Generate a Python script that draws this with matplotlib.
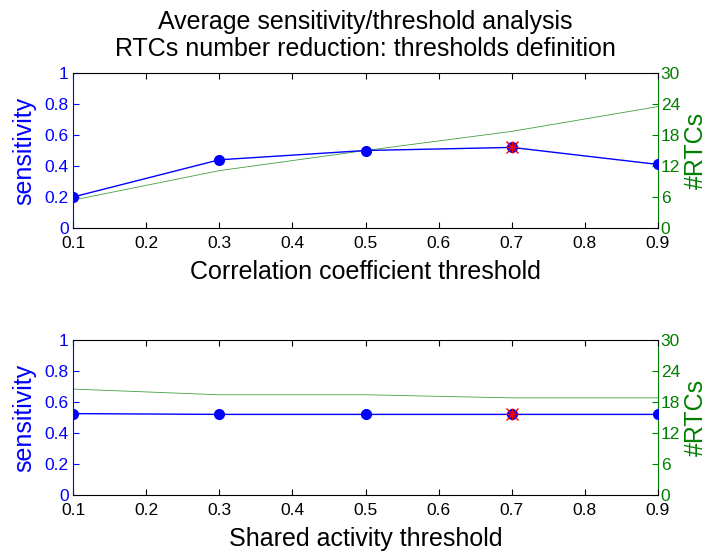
import matplotlib

matplotlib.use("Agg")
import matplotlib.pyplot as plt

plt.rcParams["font.family"] = ["Liberation Sans", "DejaVu Sans"]

# thresholds (x axis) shared by both panels
thresholds = [0.1, 0.3, 0.5, 0.7, 0.9]

# top panel: correlation coefficient threshold
corr_sensitivity = [0.20, 0.44, 0.50, 0.52, 0.41]
corr_rtcs = [5.4, 11.1, 15.0, 18.7, 23.5]

# bottom panel: shared activity threshold
shared_sensitivity = [0.525, 0.52, 0.52, 0.52, 0.52]
shared_rtcs = [20.5, 19.4, 19.4, 18.8, 18.8]

# chosen operating point (red asterisk)
chosen_x = 0.7

x_ticks = [0.1, 0.2, 0.3, 0.4, 0.5, 0.6, 0.7, 0.8, 0.9]
sens_ticks = [0, 0.2, 0.4, 0.6, 0.8, 1]
rtc_ticks = [0, 6, 12, 18, 24, 30]

GREEN = (0, 0.5, 0)
BLUE = (0, 0, 1)


def draw_panel(ax, sens, rtcs, xlabel):
    ax2 = ax.twinx()
    ax2.plot(thresholds, rtcs, color=GREEN, linewidth=0.6, alpha=0.75, zorder=1)
    ax2.set_ylim(0, 30)
    ax2.set_yticks(rtc_ticks)
    ax2.tick_params(axis="y", direction="in", colors=GREEN, labelsize=12.5, length=4, pad=2)
    ax2.set_ylabel("#RTCs", color=GREEN, fontsize=18, labelpad=3)
    for side in ("left", "top", "bottom"):
        ax2.spines[side].set_visible(False)
    ax2.spines["right"].set_color(GREEN)

    ax.set_zorder(ax2.get_zorder() + 1)
    ax.patch.set_visible(False)
    ax.plot(thresholds, sens, color=BLUE, linewidth=1.0, marker="o", markersize=7, zorder=3)
    i = thresholds.index(chosen_x)
    for m in ("+", "x"):
        ax.plot([chosen_x], [sens[i]], linestyle="none", marker=m, color="red",
                markersize=8, markeredgewidth=1.0, zorder=4)
    ax.set_xlim(0.1, 0.9)
    ax.set_ylim(0, 1)
    ax.set_xticks(x_ticks)
    ax.set_xticklabels([f"{v:g}" for v in x_ticks])
    ax.set_yticks(sens_ticks)
    ax.set_yticklabels([f"{v:g}" for v in sens_ticks])
    ax.tick_params(axis="x", direction="in", top=True, labelsize=12.5, length=4, pad=6)
    ax.tick_params(axis="y", direction="in", colors=BLUE, labelsize=12.5, length=4, pad=3)
    ax.set_ylabel("sensitivity", color=BLUE, fontsize=18, labelpad=6)
    ax.set_xlabel(xlabel, fontsize=18, labelpad=6)
    ax.spines["left"].set_color(BLUE)
    ax.spines["right"].set_visible(False)
    for side in ("top", "bottom"):
        ax.spines[side].set_color("black")


fig = plt.figure(figsize=(7.10, 5.52), dpi=100)
ax_top = fig.add_axes([73 / 710, 1 - 228 / 552, 585 / 710, 155 / 552])
ax_bot = fig.add_axes([73 / 710, 1 - 495 / 552, 585 / 710, 155 / 552])

draw_panel(ax_top, corr_sensitivity, corr_rtcs, "Correlation coefficient threshold")
draw_panel(ax_bot, shared_sensitivity, shared_rtcs, "Shared activity threshold")

ax_top.set_title("Average sensitivity/threshold analysis\nRTCs number reduction: thresholds definition",
                 fontsize=18, linespacing=1.2, pad=12)

fig.savefig("out.png", dpi=100)
